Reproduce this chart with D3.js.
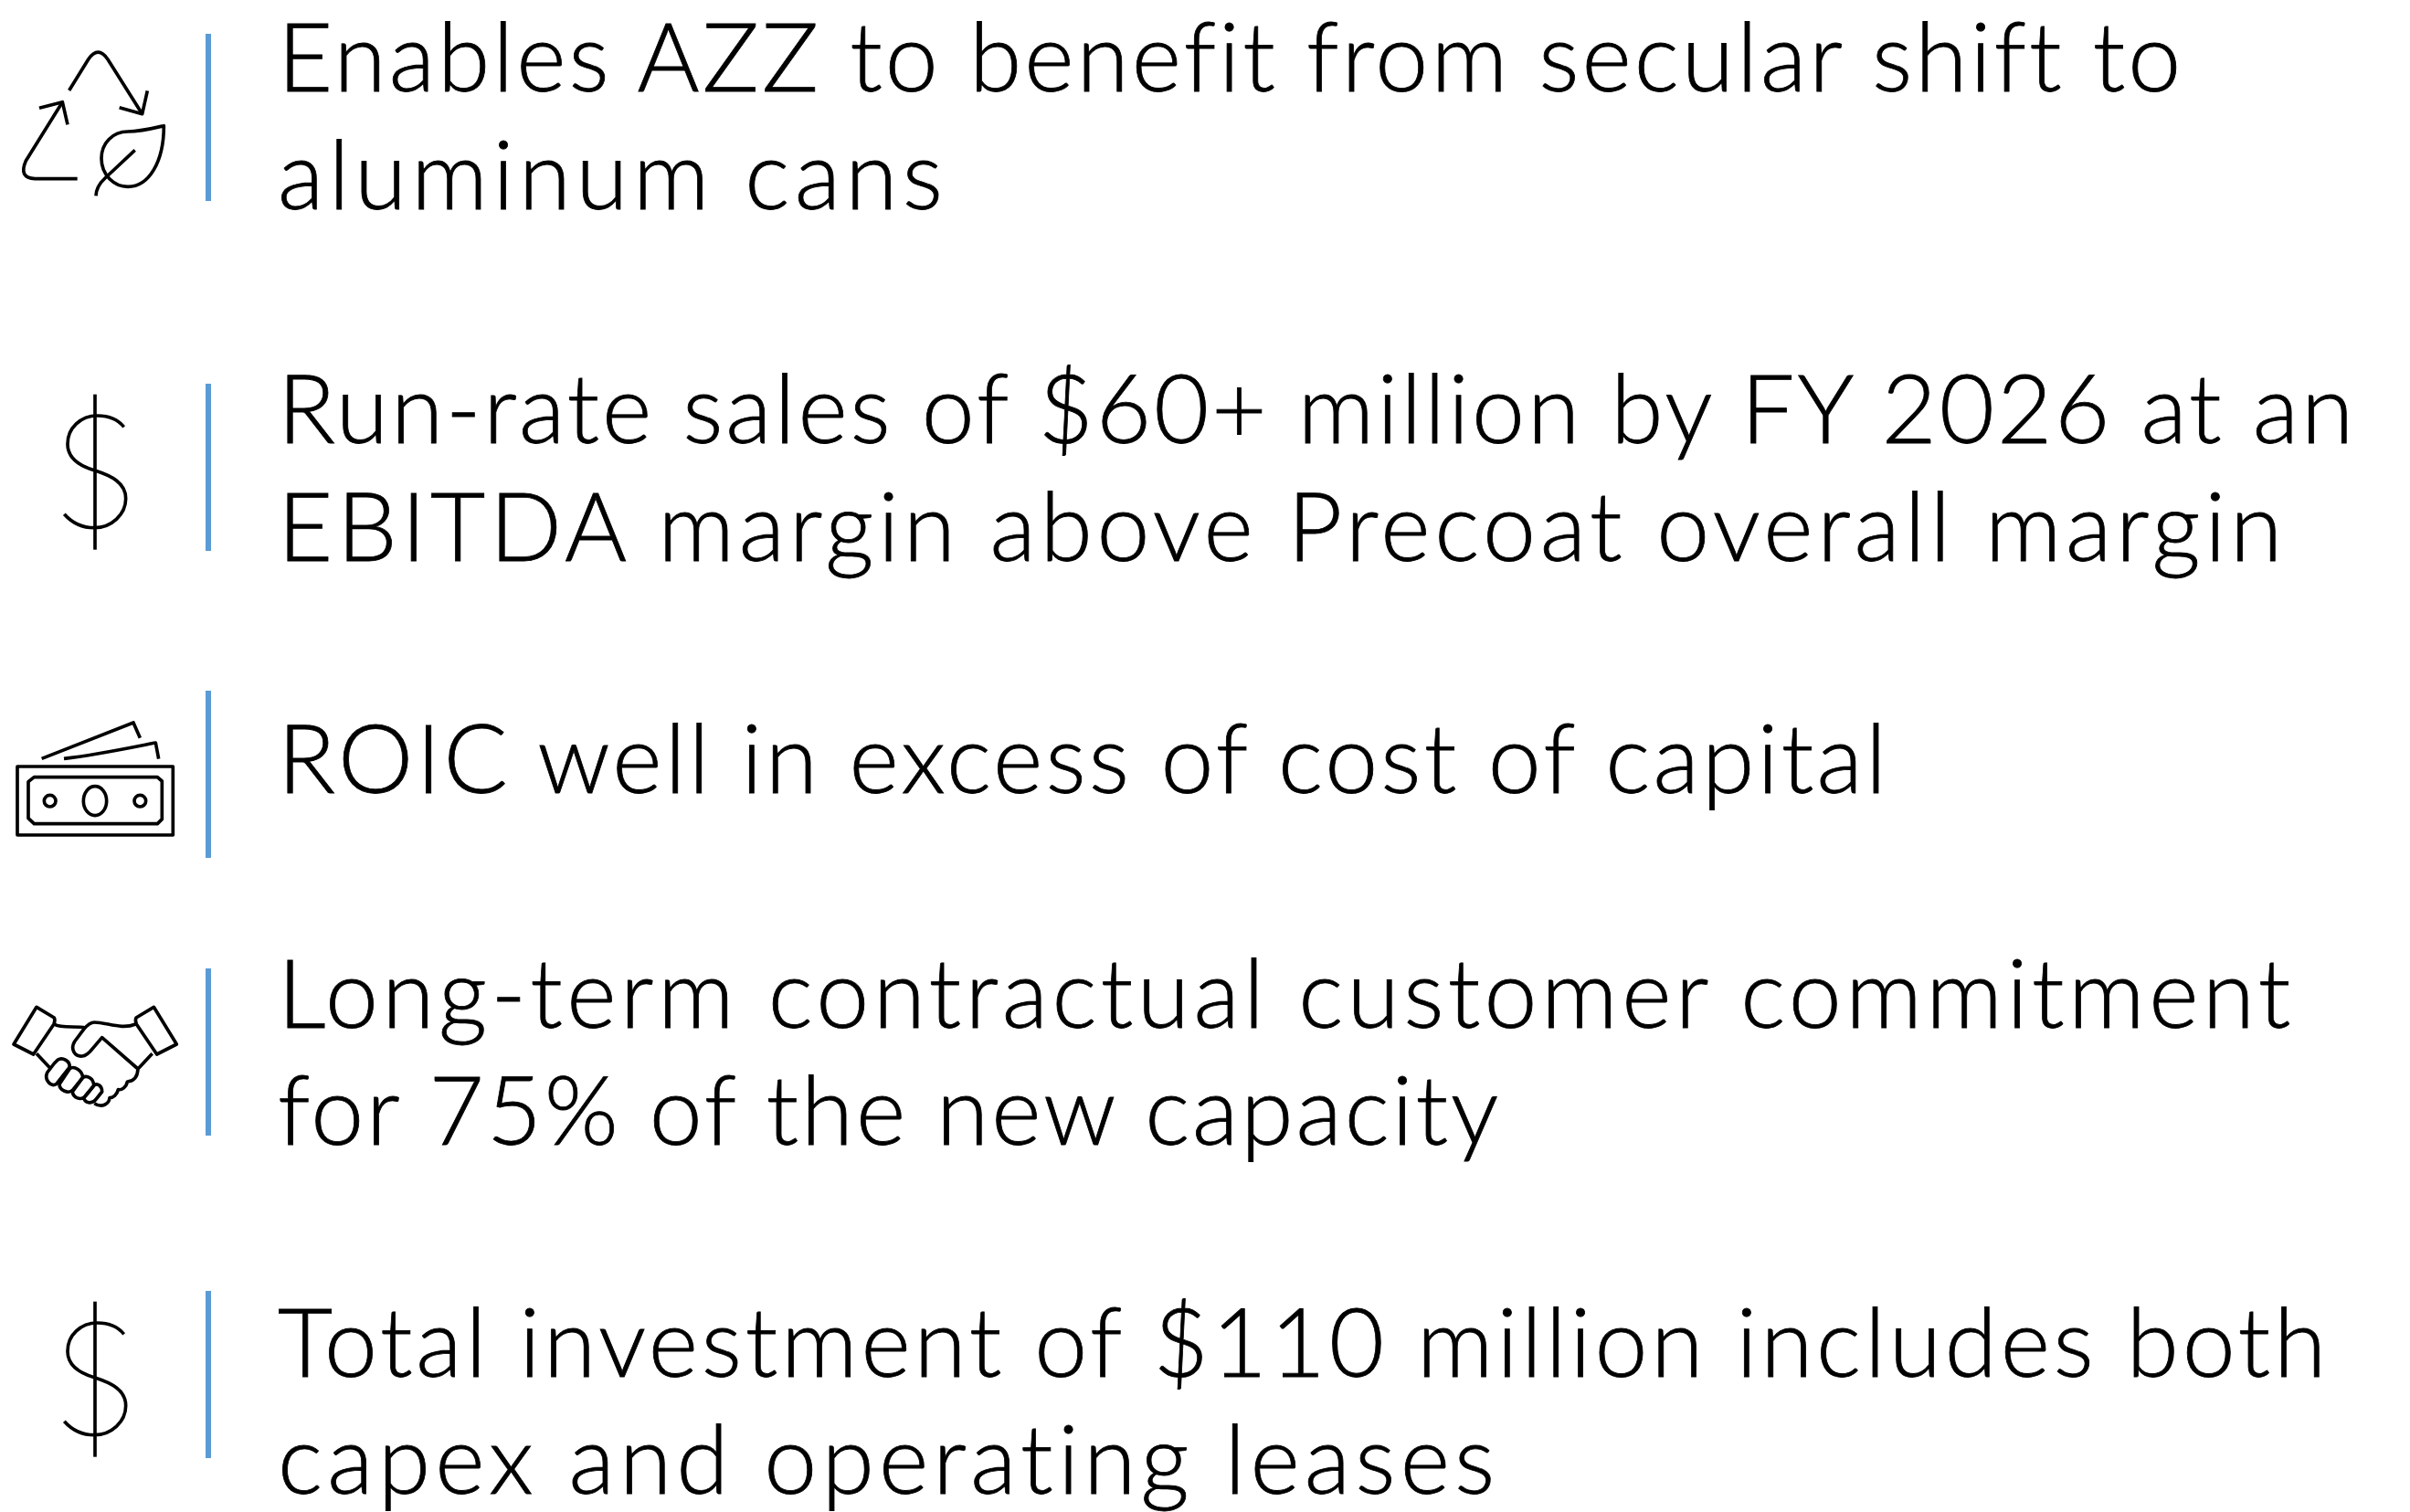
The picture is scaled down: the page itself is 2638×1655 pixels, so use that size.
<!DOCTYPE html>
<html>
<head>
<meta charset="utf-8">
<script src="https://cdn.jsdelivr.net/npm/d3@7"></script>
<style>
  html, body { margin: 0; background: #fff; }
  svg { display: block; }
</style>
</head>
<body>
<svg></svg>
<script>
const firstLines = [
  "Enables AZZ to benefit from secular shift to",
  "Run-rate sales of $60+ million by FY 2026 at an",
  "ROIC well in excess of cost of capital",
  "Long-term contractual customer commitment",
  "Total investment of $110 million includes both"
];
const secondLines = [
  "aluminum cans",
  "EBITDA margin above Precoat overall margin",
  "",
  "for 75% of the new capacity",
  "capex and operating leases"
];
const iconNames = ["recycle", "dollar", "money", "hands", "dollar"];
const dividerTops = [37, 420, 756, 1060, 1413];
const firstBaselines = [100, 485, 868, 1125, 1507];
const secondBaselines = [229, 614, null, 1253, 1635];

// letter spacing per line, the original font is wider than Lato
const firstTracking = [3.0, 2.9, 3.15, 4.4, 3.76];
const secondTracking = [5.3, 4.66, 0, 2.85, 5.17];

// icon shapes, traced at 3x
const icons = {
  recycle: [
    "M227 237L290 135Q322 88 354 135L467 314",
    "M392 293L467 314L484 238",
    "M205 275L85 468Q60 525 115 527L254 527",
    "M129 295L205 275L222 349",
    "M538 353C500 362 460 372 420 372C370 372 333 410 333 460C333 515 375 553 420 553C490 553 538 470 538 353Z",
    "M443 433L345 525Q316 552 315 583"
  ],
  dollar: [
    "M312 95L312 605",
    "M407 202C385 175 350 165 320 165C265 165 222 205 222 258C222 305 260 330 312 345C365 362 413 385 413 437C413 490 365 533 310 533C265 533 235 515 211 488"
  ],
  money: [
    "M57 297H568V522H57Z",
    "M112 332H517L532 345V470L517 485H112L93 467V347Z",
    "M137 271L438 153L460 203",
    "M210 271C310 260 420 237 511 219L521 272",
    "M274 410A38 48 0 1 0 350 410A38 48 0 1 0 274 410Z",
    "M145 410A19 19 0 1 0 183 410A19 19 0 1 0 145 410Z",
    "M441 410A19 19 0 1 0 479 410A19 19 0 1 0 441 410Z"
  ],
  hands: [
    "M120 187L178 222Q182 230 177 243L110 342L45 309Z",
    "M505 187L447 222Q443 230 448 243L515 342L580 309Z",
    "M178 243C200 258 250 248 281 255",
    "M445 243C400 262 350 237 310 237C295 237 285 248 275 260L245 300C230 325 245 350 270 348C285 347 295 335 305 322L335 287L453 390",
    "M120 340L167 390",
    "M500 340L453 390C452 410 445 430 418 432C415 450 400 460 388 458C385 475 370 485 360 485C358 505 335 520 310 503",
    "M178 372L155 402C145 425 165 450 185 440L228 385C232 365 205 350 190 360Z",
    "M230 388L195 440C195 460 225 475 240 458L272 418C270 395 245 380 230 388Z",
    "M272 418L238 465C240 485 265 495 280 480L308 445C308 420 285 410 272 418Z",
    "M310 443L275 485C280 505 305 505 315 490L335 465C335 445 320 437 310 443Z"
  ]
};

const W = 2638, H = 1655;
const svg = d3.select("svg").attr("width", W).attr("height", H);

const rows = d3.range(firstLines.length);

// dividers
svg.selectAll("rect.divider")
  .data(rows)
  .join("rect")
  .attr("class", "divider")
  .attr("x", 225)
  .attr("y", i => dividerTops[i])
  .attr("width", 6)
  .attr("height", 183)
  .attr("fill", "#5b9bd5");

// icons
const iconOrigin = { recycle: 20, money: 740, hands: 1040 };
const iconRows = svg.selectAll("g.icon")
  .data(rows)
  .join("g")
  .attr("class", "icon")
  .attr("transform", i => {
    const name = iconNames[i];
    const y = name === "dollar" ? dividerTops[i] - 20 : iconOrigin[name];
    return `translate(0,${y}) scale(${1 / 3})`;
  });

iconRows.selectAll("path")
  .data(i => icons[iconNames[i]])
  .join("path")
  .attr("d", d => d)
  .attr("fill", "none")
  .attr("stroke", "#000")
  .attr("stroke-width", 11)
  .attr("stroke-linejoin", "round");

// text
const textStyle = sel => sel
  .attr("x", 304)
  .attr("font-family", "Lato")
  .attr("font-weight", 300)
  .attr("font-size", 104)
  .attr("stroke", "#000")
  .attr("stroke-width", 0.8)
  .attr("fill", "#000");

svg.selectAll("text.first")
  .data(rows)
  .join("text")
  .attr("class", "first")
  .call(textStyle)
  .attr("letter-spacing", i => firstTracking[i])
  .attr("y", i => firstBaselines[i])
  .text(i => firstLines[i]);

svg.selectAll("text.second")
  .data(rows.filter(i => secondLines[i]))
  .join("text")
  .attr("class", "second")
  .call(textStyle)
  .attr("letter-spacing", i => secondTracking[i])
  .attr("y", i => secondBaselines[i])
  .text(i => secondLines[i]);
</script>
</body>
</html>
